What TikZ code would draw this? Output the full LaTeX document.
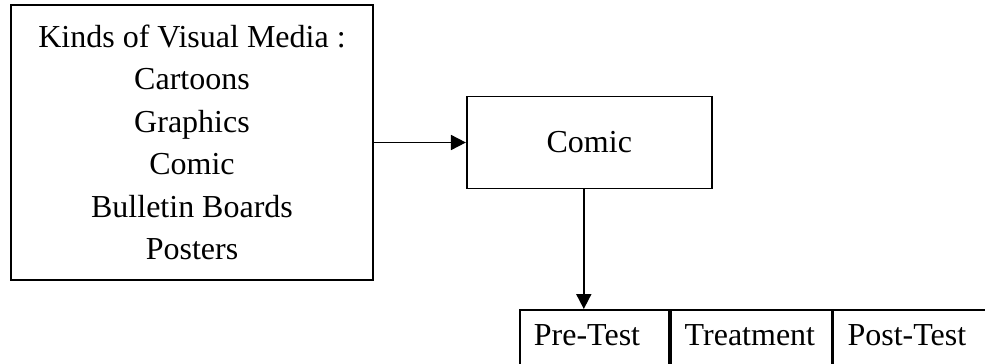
\documentclass[tikz,border=0pt]{standalone}
\usepackage{fontspec}
\setmainfont{Liberation Serif}
\usetikzlibrary{arrows.meta,positioning}

\begin{document}
\begin{tikzpicture}[
  x=0.5pt,y=-0.5pt,
  font=\fontsize{16}{21.25}\selectfont,
  line width=0.9pt,
  box/.style ={draw,align=center,inner sep=0pt},
  cell/.style={draw,align=left,inner xsep=7pt,inner ysep=0pt,
               text height=18pt,text depth=15pt},
  >={Triangle[length=7.5pt,width=7.5pt]}]

\clip (0,0) rectangle (985,364);

%---------------- media and comic ----------------
\node[box,minimum width=181pt,minimum height=137.5pt] (media) at (192,142.5)
  {Kinds of Visual Media :\\Cartoons\\Graphics\\Comic\\Bulletin Boards\\Posters};
\node[box,minimum width=122.5pt,minimum height=46pt,right=46pt of media] (comic) {Comic};
\draw[->] (media.east |- comic) -- (comic.west);

%---------------- test row ----------------
\node[cell,text width=60.5pt,anchor=north west] (pre) at (519,309) {Pre-Test};
\node[cell,text width=66.5pt,right=0pt of pre] (treat) {Treatment};
\node[cell,text width=67.5pt,right=0pt of treat] (post) {Post-Test};
\draw[->] ([xshift=-2.75pt]comic.south) -- ([xshift=-2.75pt]comic.south |- pre.north);

\end{tikzpicture}
\end{document}
